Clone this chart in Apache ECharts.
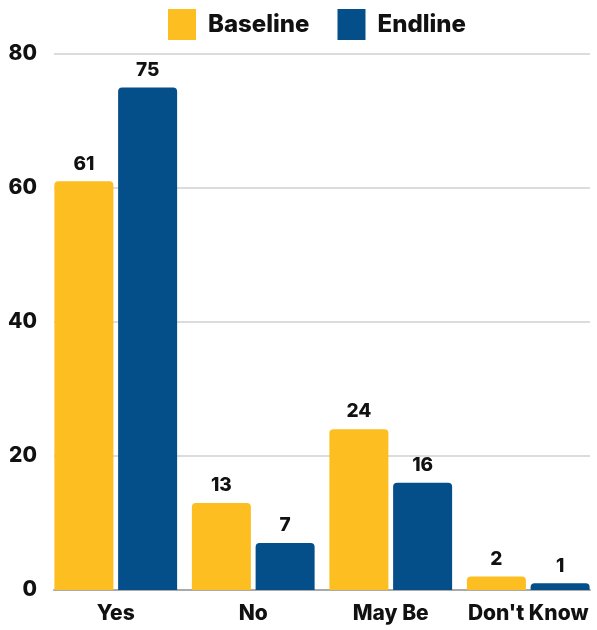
<!DOCTYPE html>
<html><head><meta charset="utf-8">
<script src="https://cdn.jsdelivr.net/npm/echarts@6/dist/echarts.min.js"></script>
<style>html,body{margin:0;padding:0;background:#fff}#c{width:597px;height:630px}</style>
</head><body><div id="c"></div>
<script>
const categories = ["Yes", "No", "May Be", "Don't Know"];
const baseline = [61, 13, 24, 2];
const endline = [75, 7, 16, 1];
const seriesNames = ["Baseline", "Endline"];
const yTicks = { min: 0, max: 80, interval: 20 };

const FONT = "Inter";
const chart = echarts.init(document.getElementById('c'), null, {renderer: 'canvas'});
const labelStyle = { show: true, position: 'top', distance: 8, color: '#111', fontFamily: FONT, fontWeight: 800, fontSize: 19 };
chart.setOption({
  animation: false,
  color: ['#FDBE21', '#044F8A'],
  legend: {
    data: seriesNames, left: 168, top: 9, padding: 0, itemWidth: 28, itemHeight: 31, itemGap: 28,
    icon: 'rect',
    textStyle: { fontFamily: FONT, fontWeight: 800, fontSize: 24, color: '#111', padding: [0,0,0,7] }
  },
  grid: [
    { left: 47, right: 0, top: 54, bottom: 40, containLabel: false },
    { left: 54, right: 7, top: 54, bottom: 40, containLabel: false }
  ],
  xAxis: [
    { type: 'category', gridIndex: 0, data: categories,
      axisLine: { show: false }, axisTick: { show: false },
      axisLabel: { color: '#111', fontFamily: FONT, fontWeight: 800, fontSize: 21, margin: 13, interval: 0 } },
    { type: 'category', gridIndex: 1, data: categories,
      axisLine: { show: true, lineStyle: { color: '#aaaaaa', width: 2 } }, axisTick: { show: false },
      axisLabel: { show: false } }
  ],
  yAxis: [
    { type: 'value', gridIndex: 0, min: yTicks.min, max: yTicks.max, interval: yTicks.interval,
      splitLine: { show: false }, axisLine: { show: false }, axisTick: { show: false },
      axisLabel: { color: '#111', fontFamily: FONT, fontWeight: 800, fontSize: 21, margin: 10 } },
    { type: 'value', gridIndex: 1, min: yTicks.min, max: yTicks.max, interval: yTicks.interval,
      splitLine: { show: true, lineStyle: { color: '#d0d0d0', width: 1.5 } },
      axisLine: { show: false }, axisTick: { show: false }, axisLabel: { show: false } }
  ],
  series: [
    { name: seriesNames[0], type: 'bar', xAxisIndex: 0, yAxisIndex: 0, data: baseline,
      barWidth: 59, barGap: '8%', itemStyle: { borderRadius: [4,4,0,0] }, label: labelStyle, z: 3 },
    { name: seriesNames[1], type: 'bar', xAxisIndex: 0, yAxisIndex: 0, data: endline,
      barWidth: 59, barGap: '8%', itemStyle: { borderRadius: [4,4,0,0] }, label: labelStyle, z: 3 }
  ]
});
</script></body></html>
